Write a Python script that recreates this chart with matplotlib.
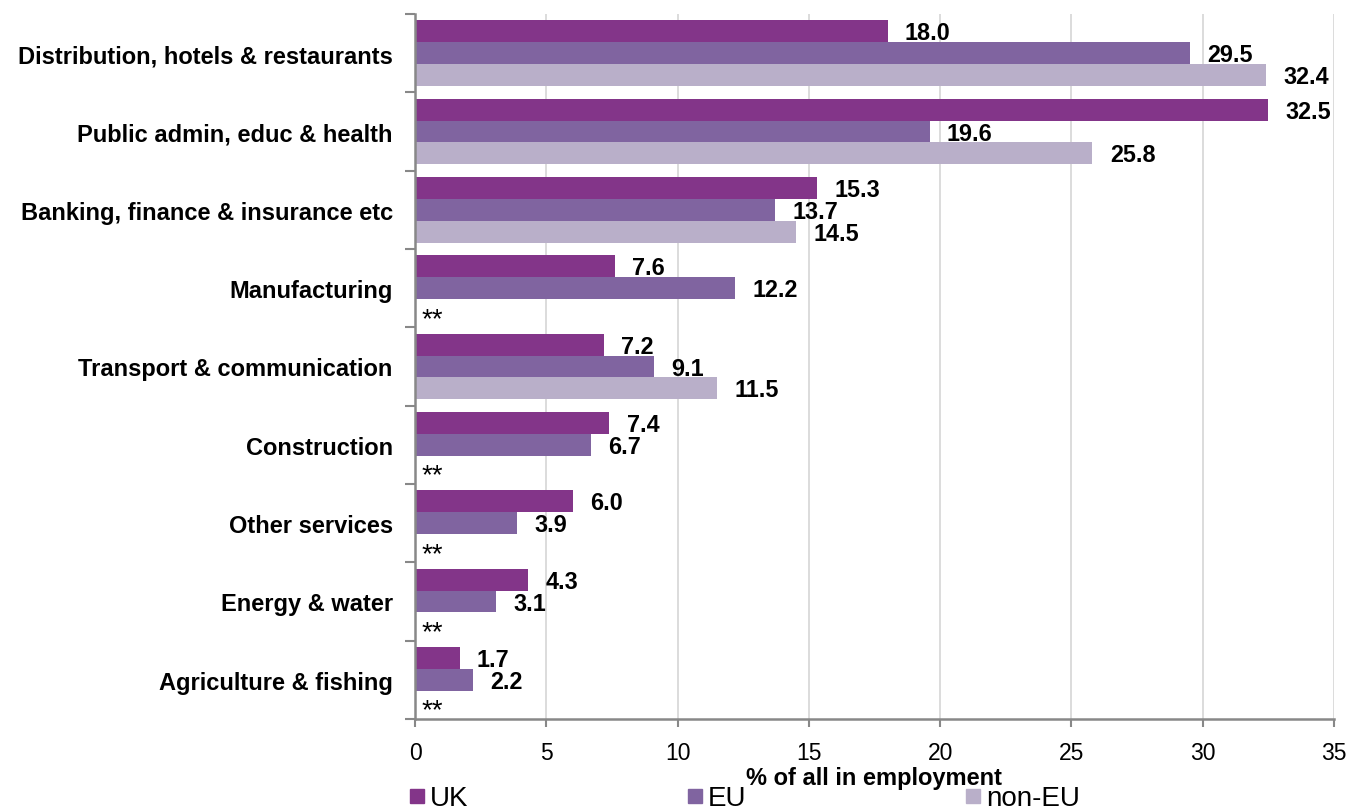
import numpy as np
import matplotlib
matplotlib.use('Agg')
import matplotlib.pyplot as plt
from matplotlib.patches import Rectangle

plt.rcParams['font.family'] = ['Liberation Sans', 'DejaVu Sans']

sectors = ['Distribution, hotels & restaurants', 'Public admin, educ & health',
           'Banking, finance & insurance etc', 'Manufacturing',
           'Transport & communication', 'Construction', 'Other services',
           'Energy & water', 'Agriculture & fishing']
uk = [18.0, 32.5, 15.3, 7.6, 7.2, 7.4, 6.0, 4.3, 1.7]
eu = [29.5, 19.6, 13.7, 12.2, 9.1, 6.7, 3.9, 3.1, 2.2]
non_eu = [32.4, 25.8, 14.5, None, 11.5, None, None, None, None]  # None = too few to report

series = [('UK', uk, '#833589'), ('EU', eu, '#8064A0'), ('non-EU', non_eu, '#B9AFC9')]

W, H = 1354, 812
fig = plt.figure(figsize=(W / 100, H / 100), dpi=100)
ax = fig.add_axes([415 / W, 1 - 720 / H, 919 / W, 705 / H])

h = 0.28
n = len(sectors)
for k, (name, vals, col) in enumerate(series):
    y = np.arange(n) + (k - 1) * h
    for yi, v in zip(y, vals):
        if v is None:
            ax.text(0.25, yi + 0.2, '**', va='baseline', ha='left', fontsize=20)
            continue
        ax.barh(yi, v, height=h, color=col)
        ax.text(v + 0.66, yi + 0.02, f'{v:.1f}', va='center', ha='left',
                fontsize=16.8, fontweight='bold')

ax.set_xlim(0, 35)
ax.set_ylim(n - 0.5, -0.5)
ax.set_xticks(range(0, 36, 5))
ax.tick_params(axis='x', labelsize=16.5, length=6, width=1.5, color='#888888', pad=10)
ax.grid(axis='x', color='#d9d9d9', lw=1.3)
ax.set_axisbelow(True)

ax.set_yticks(np.arange(n + 1) - 0.5)
ax.set_yticklabels([])
ax.set_yticks(np.arange(n), minor=True)
ax.set_yticklabels(sectors, minor=True, fontsize=17, fontweight='bold')
ax.tick_params(axis='y', which='major', length=7, color='#888888', width=1.5)
ax.tick_params(axis='y', which='minor', length=0, pad=16)

for s in ['top', 'right']:
    ax.spines[s].set_visible(False)
for s in ['left', 'bottom']:
    ax.spines[s].set_color('#888888')
    ax.spines[s].set_linewidth(1.8)

ax.set_xlabel('% of all in employment', fontsize=17, fontweight='bold', labelpad=1)

# legend row along the bottom edge
for k, (name, _, col) in enumerate(series):
    x0 = 410 + k * 278
    fig.add_artist(Rectangle((x0 / W, 1 - 804 / H), 14 / W, 14 / H,
                             transform=fig.transFigure, color=col))
    fig.text((x0 + 20) / W, 1 - 806 / H, name, fontsize=20, va='baseline', ha='left')

fig.savefig('out.png', dpi=100)
